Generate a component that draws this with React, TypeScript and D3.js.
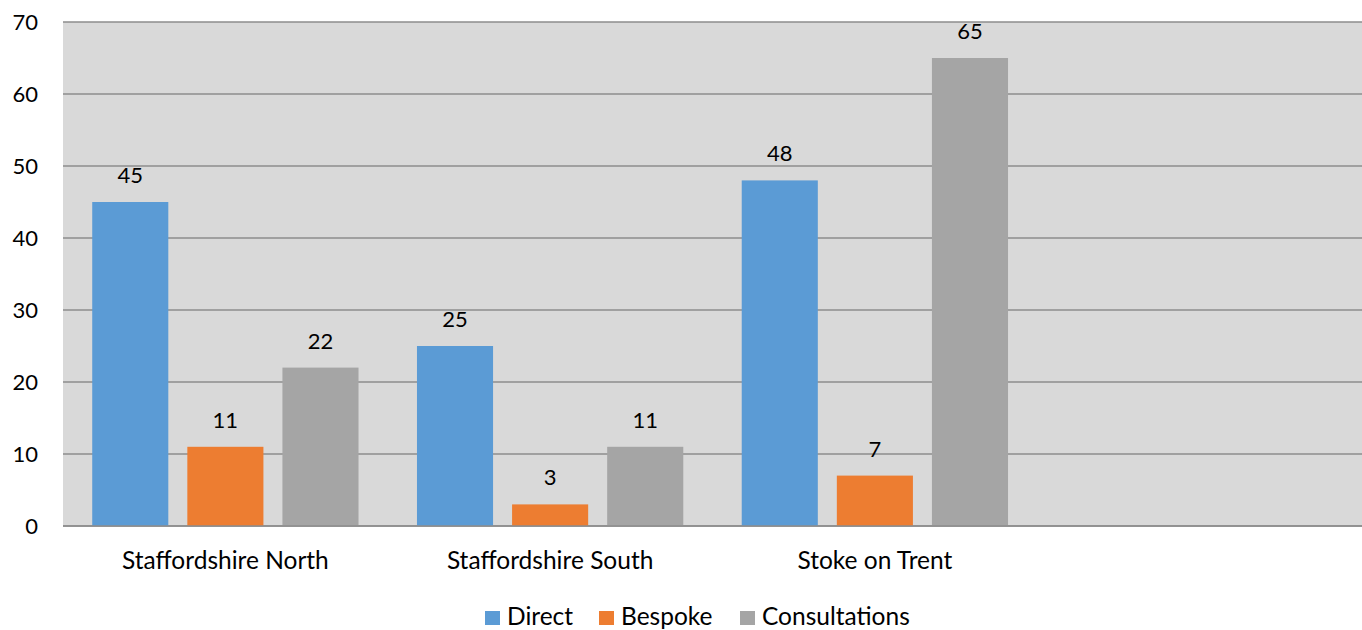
import React from "react";
import * as d3 from "d3";

const categories = ["Staffordshire North", "Staffordshire South", "Stoke on Trent", ""];
const seriesNames = ["Direct", "Bespoke", "Consultations"];
const direct = [45, 25, 48, null];
const bespoke = [11, 3, 7, null];
const consultations = [22, 11, 65, null];
const yTicks = [0, 10, 20, 30, 40, 50, 60, 70];
const colors = ["#5b9bd5", "#ed7d31", "#a5a5a5"];

const W = 1362;
const H = 630;
const FONT = "Lato, 'Open Sans', sans-serif";
const NUM_FS = 22;
const TEXT_FS = 24.5;

export default function App() {
  const values = [direct, bespoke, consultations];
  const left = 63;
  const right = 1362;
  const top = 22;
  const bottom = 526;

  const x0 = d3.scaleBand<string>().domain(categories.map((c, i) => String(i))).range([left, right]).padding(0);
  const bw = x0.bandwidth();
  const x1 = d3
    .scaleBand<string>()
    .domain(seriesNames)
    .range([bw * 0.09, bw * 0.91])
    .paddingInner(0.2)
    .paddingOuter(0);
  const y = d3.scaleLinear().domain([0, 70]).range([bottom, top]);

  return (
    <div style={{ position: "absolute", left: 0, top: 0, width: W, height: H }}>
      <svg width={W} height={H} style={{ display: "block", fontFamily: FONT }}>
        <rect x={0} y={0} width={W} height={H} fill="#ffffff" />
        <rect x={left} y={top} width={right - left} height={bottom - top} fill="#d9d9d9" />
        {yTicks.map((t) => (
          <g key={t}>
            <line x1={left} x2={right} y1={y(t)} y2={y(t)} stroke="#8c8c8c" strokeWidth={1.5} />
            <text x={38} y={y(t) + 8} textAnchor="end" fontSize={NUM_FS} fill="#000">
              {t}
            </text>
          </g>
        ))}
        {categories.map((c, ci) => (
          <g key={ci} transform={`translate(${x0(String(ci))},0)`}>
            {seriesNames.map((s, si) => {
              const v = values[si][ci];
              if (v == null) return null;
              const bx = x1(s)!;
              return (
                <g key={s}>
                  <rect x={bx} y={y(v)} width={x1.bandwidth()} height={y(0) - y(v)} fill={colors[si]} />
                  <text x={bx + x1.bandwidth() / 2} y={y(v) - 19} textAnchor="middle" fontSize={NUM_FS} fill="#000">
                    {v}
                  </text>
                </g>
              );
            })}
            {c && (
              <text x={bw / 2} y={569} textAnchor="middle" fontSize={TEXT_FS} fill="#000">
                {c}
              </text>
            )}
          </g>
        ))}
        <line x1={left} x2={right} y1={y(0)} y2={y(0)} stroke="#8c8c8c" strokeWidth={1.5} />
        {/* legend */}
        {seriesNames.map((s, i) => {
          const lx = [485, 599, 740][i];
          return (
            <g key={s}>
              <rect x={lx} y={611} width={15} height={14} fill={colors[i]} />
              <text x={lx + 22} y={625} fontSize={TEXT_FS} fill="#000">
                {s}
              </text>
            </g>
          );
        })}
      </svg>
    </div>
  );
}
